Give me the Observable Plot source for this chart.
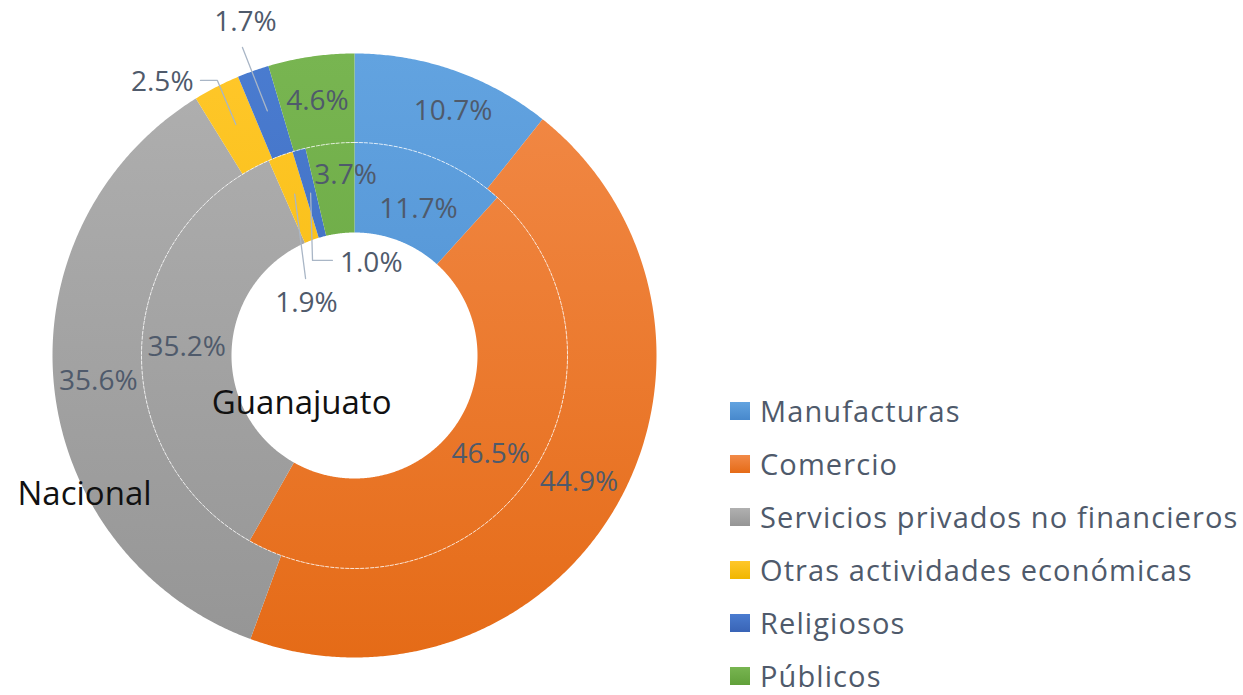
<!DOCTYPE html>
<html>
<head>
<meta charset="utf-8">
<script src="https://cdn.jsdelivr.net/npm/d3@7"></script>
<script src="https://cdn.jsdelivr.net/npm/@observablehq/plot@0.6"></script>
<style>
  html, body { margin: 0; padding: 0; background: #fff; }
  #wrap { position: relative; width: 1243px; height: 695px; overflow: hidden; font-family: "Open Sans", sans-serif; }
  #wrap svg { position: absolute; left: 0; top: 0; }
  #legend { position: absolute; left: 730px; top: 384px; }
  .row { height: 53px; display: flex; align-items: center; font-size: 29px; line-height: 34px; letter-spacing: 1.1px; color: #4f5a6b; white-space: nowrap; }
  .sw { width: 20px; height: 18px; margin-right: 10px; flex: none; }
</style>
</head>
<body>
<div id="wrap"><div id="legend"></div></div>
<script>
// ---- data ----
const categories = ["Manufacturas", "Comercio", "Servicios privados no financieros", "Otras actividades económicas", "Religiosos", "Públicos"];
const nacional = [10.7, 44.9, 35.6, 2.5, 1.7, 4.6];
const guanajuato = [11.7, 46.5, 35.2, 1.9, 1.0, 3.7];
const ringNames = ["Nacional", "Guanajuato"];
const colorsTop = ["#62a3e0", "#f28a48", "#b0b0b0", "#ffc72a", "#4a7cd0", "#78b551"];
const colorsBottom = ["#4788cc", "#e56b17", "#959595", "#f0b600", "#3964b6", "#61a03a"];

// ---- layout (unit = outer radius) ----
const R_OUT = 1, R_MID = 213 / 302, R_IN = 123 / 302;
const rings = [
  {name: "Nacional", values: nacional, r0: R_MID, r1: R_OUT},
  {name: "Guanajuato", values: guanajuato, r0: R_IN, r1: R_MID}
];
// label nudges (in units) for centroid-placed labels
const nudge = {"Nacional|Manufacturas": [0.045, 0.005], "Guanajuato|Manufacturas": [0.012, -0.035], "Guanajuato|Públicos": [0.035, 0.045]};
// leader-line labels
const leaders = [
  {ring: "Nacional", cat: "Religiosos", r: 0.86, pts: [[-0.371, 1.020]], text: [-0.361, 1.103], anchor: "middle"},
  {ring: "Nacional", cat: "Otras actividades económicas", r: 0.86, pts: [[-0.454, 0.911], [-0.510, 0.911]], text: [-0.533, 0.906], anchor: "end"},
  {ring: "Guanajuato", cat: "Religiosos", r: 0.557, pts: [[-0.139, 0.315], [-0.073, 0.315]], text: [-0.048, 0.305], anchor: "start"},
  {ring: "Guanajuato", cat: "Otras actividades económicas", r: 0.57, pts: [[-0.162, 0.255]], text: [-0.159, 0.175], anchor: "middle"}
];
const ringLabels = [
  {name: "Guanajuato", x: -0.175, y: -0.159},
  {name: "Nacional", x: -0.894, y: -0.460}
];

// ---- geometry ----
const polar = (deg, r) => [r * Math.sin(deg * Math.PI / 180), r * Math.cos(deg * Math.PI / 180)];
const arcRows = [], labelRows = [], leaderRows = [], leaderText = [];
const sliceInfo = {};
for (const ring of rings) {
  const total = d3.sum(ring.values);
  let cum = 0;
  ring.values.forEach((v, i) => {
    const a0 = cum / total * 360, a1 = (cum + v) / total * 360;
    cum += v;
    const id = ring.name + "|" + categories[i];
    const n = Math.max(4, Math.ceil((a1 - a0) / 0.4));
    const pts = [];
    for (let k = 0; k <= n; k++) pts.push(polar(a0 + (a1 - a0) * k / n, ring.r1));
    for (let k = n; k >= 0; k--) pts.push(polar(a0 + (a1 - a0) * k / n, ring.r0));
    pts.push(pts[0]);
    pts.forEach(([x, y]) => arcRows.push({id, cat: categories[i], x, y}));
    const mid = (a0 + a1) / 2;
    sliceInfo[id] = mid;
    const isLeader = leaders.some(l => l.ring === ring.name && l.cat === categories[i]);
    if (!isLeader) {
      const [cx, cy] = polar(mid, (ring.r0 + ring.r1) / 2);
      const nd = nudge[id] || [0, 0];
      labelRows.push({x: cx + nd[0], y: cy + nd[1], label: v.toFixed(1) + "%"});
    }
  });
}
leaders.forEach((l, j) => {
  const id = l.ring + "|" + l.cat;
  const [sx, sy] = polar(sliceInfo[id], l.r);
  leaderRows.push({g: j, x: sx, y: sy});
  l.pts.forEach(([x, y]) => leaderRows.push({g: j, x, y}));
  const vals = l.ring === "Nacional" ? nacional : guanajuato;
  leaderText.push({x: l.text[0], y: l.text[1], anchor: l.anchor, label: vals[categories.indexOf(l.cat)].toFixed(1) + "%"});
});
const circle = d3.range(0, 361, 1).map(a => { const [x, y] = polar(a, R_MID); return {x, y}; });

const gradIds = categories.map((c, i) => "grad" + i);

const textColor = "#4f5a6b";
const plot = Plot.plot({
  width: 1243, height: 695, margin: 0,
  x: {domain: [-354 / 302, 889 / 302], axis: null},
  y: {domain: [-340 / 302, 355 / 302], axis: null},
  color: {type: "ordinal", domain: categories, range: gradIds.map(g => `url(#${g})`)},
  marks: [
    Plot.line(arcRows, {x: "x", y: "y", z: "id", fill: "cat", stroke: null, curve: "linear"}),
    Plot.line(circle, {x: "x", y: "y", stroke: "#ffffff", strokeWidth: 1, strokeOpacity: 0.75, strokeDasharray: "3,2"}),
    Plot.line(leaderRows, {x: "x", y: "y", z: "g", stroke: "#a9b6c6", strokeWidth: 1.3}),
    ...["start", "middle", "end"].map(anc => Plot.text(leaderText.filter(d => d.anchor === anc), {x: "x", y: "y", text: "label", textAnchor: anc, fill: textColor, fontSize: 28, fontFamily: "Open Sans"})),
    Plot.text(labelRows, {x: "x", y: "y", text: "label", fill: textColor, fontSize: 28, fontFamily: "Open Sans"}),
    Plot.text(ringLabels, {x: "x", y: "y", text: "name", fill: "#111", fontSize: 33, fontFamily: "Open Sans"})
  ]
});

const defs = d3.select(plot).insert("defs", ":first-child");
categories.forEach((c, i) => {
  const g = defs.append("linearGradient").attr("id", gradIds[i]).attr("gradientUnits", "userSpaceOnUse")
    .attr("x1", 0).attr("y1", 53).attr("x2", 0).attr("y2", 657);
  g.append("stop").attr("offset", "0%").attr("stop-color", colorsTop[i]);
  g.append("stop").attr("offset", "100%").attr("stop-color", colorsBottom[i]);
});
document.getElementById("wrap").prepend(plot);

const legend = d3.select("#legend");
categories.forEach((c, i) => {
  const row = legend.append("div").attr("class", "row");
  row.append("div").attr("class", "sw").style("background", `linear-gradient(${colorsTop[i]}, ${colorsBottom[i]})`);
  row.append("span").text(c);
});
</script>
</body>
</html>
